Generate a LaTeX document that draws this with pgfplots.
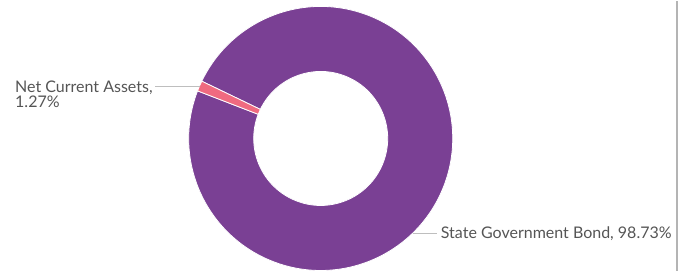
\documentclass[border=0pt]{standalone}
\usepackage{pgfplots}
\pgfplotsset{compat=1.18}
\usetikzlibrary{calc}
\usepackage{fontspec}
\setmainfont{Lato}
\definecolor{cpurple}{RGB}{122,64,148}
\definecolor{cpink}{RGB}{240,106,128}
\definecolor{ctext}{RGB}{85,85,85}
\definecolor{cline}{RGB}{190,190,190}
\definecolor{cedge}{RGB}{180,180,180}
% values (percent)
\def\valPink{1.27}
\def\valPurple{98.73}
\begin{document}
\begin{tikzpicture}
\begin{axis}[
  x=1pt, y=1pt,
  xmin=0, xmax=685, ymin=0, ymax=270,
  hide axis, clip=false,
  scale only axis,
]
\path (axis cs:0,0) rectangle (axis cs:685,270);
\pgfmathsetmacro{\aStart}{154.3}
\pgfmathsetmacro{\aMid}{\aStart+3.6*\valPink}
\pgfmathsetmacro{\aEnd}{\aMid+3.6*\valPurple}
\def\cx{320.7}\def\cy{132.2}
% purple slice
\fill[overlay, cpurple, draw=white, line width=0.8pt]
  ($(axis cs:\cx,\cy)+(\aMid:132pt)$) arc[start angle=\aMid, end angle=\aEnd, radius=132pt]
  -- ($(axis cs:\cx,\cy)+(\aEnd:67pt)$) arc[start angle=\aEnd, end angle=\aMid, radius=67pt] -- cycle;
% pink slice
\fill[overlay, cpink, draw=white, line width=0.8pt]
  ($(axis cs:\cx,\cy)+(\aStart:132pt)$) arc[start angle=\aStart, end angle=\aMid, radius=132pt]
  -- ($(axis cs:\cx,\cy)+(\aMid:67pt)$) arc[start angle=\aMid, end angle=\aStart, radius=67pt] -- cycle;
% connectors
\draw[cline, line width=0.9pt] (axis cs:155,184.2) -- (axis cs:199.6,184.2);
\draw[cline, line width=0.9pt] (axis cs:412.5,37) -- (axis cs:437,37);
% labels
\node[anchor=base west, inner sep=0pt, text=ctext, font=\fontsize{16}{18}\selectfont]
  at (axis cs:15,178.3) {Net Current Assets,};
\node[anchor=base west, inner sep=0pt, text=ctext, font=\fontsize{16}{18}\selectfont]
  at (axis cs:15,162.7) {1.27\%};
\node[anchor=base west, inner sep=0pt, text=ctext, font=\fontsize{16}{18}\selectfont]
  at (axis cs:440.7,31.7) {State Government Bond, 98.73\%};
% right edge line
\draw[cedge, line width=1.3pt] (axis cs:677,0) -- (axis cs:677,270);
\end{axis}
\end{tikzpicture}
\end{document}
